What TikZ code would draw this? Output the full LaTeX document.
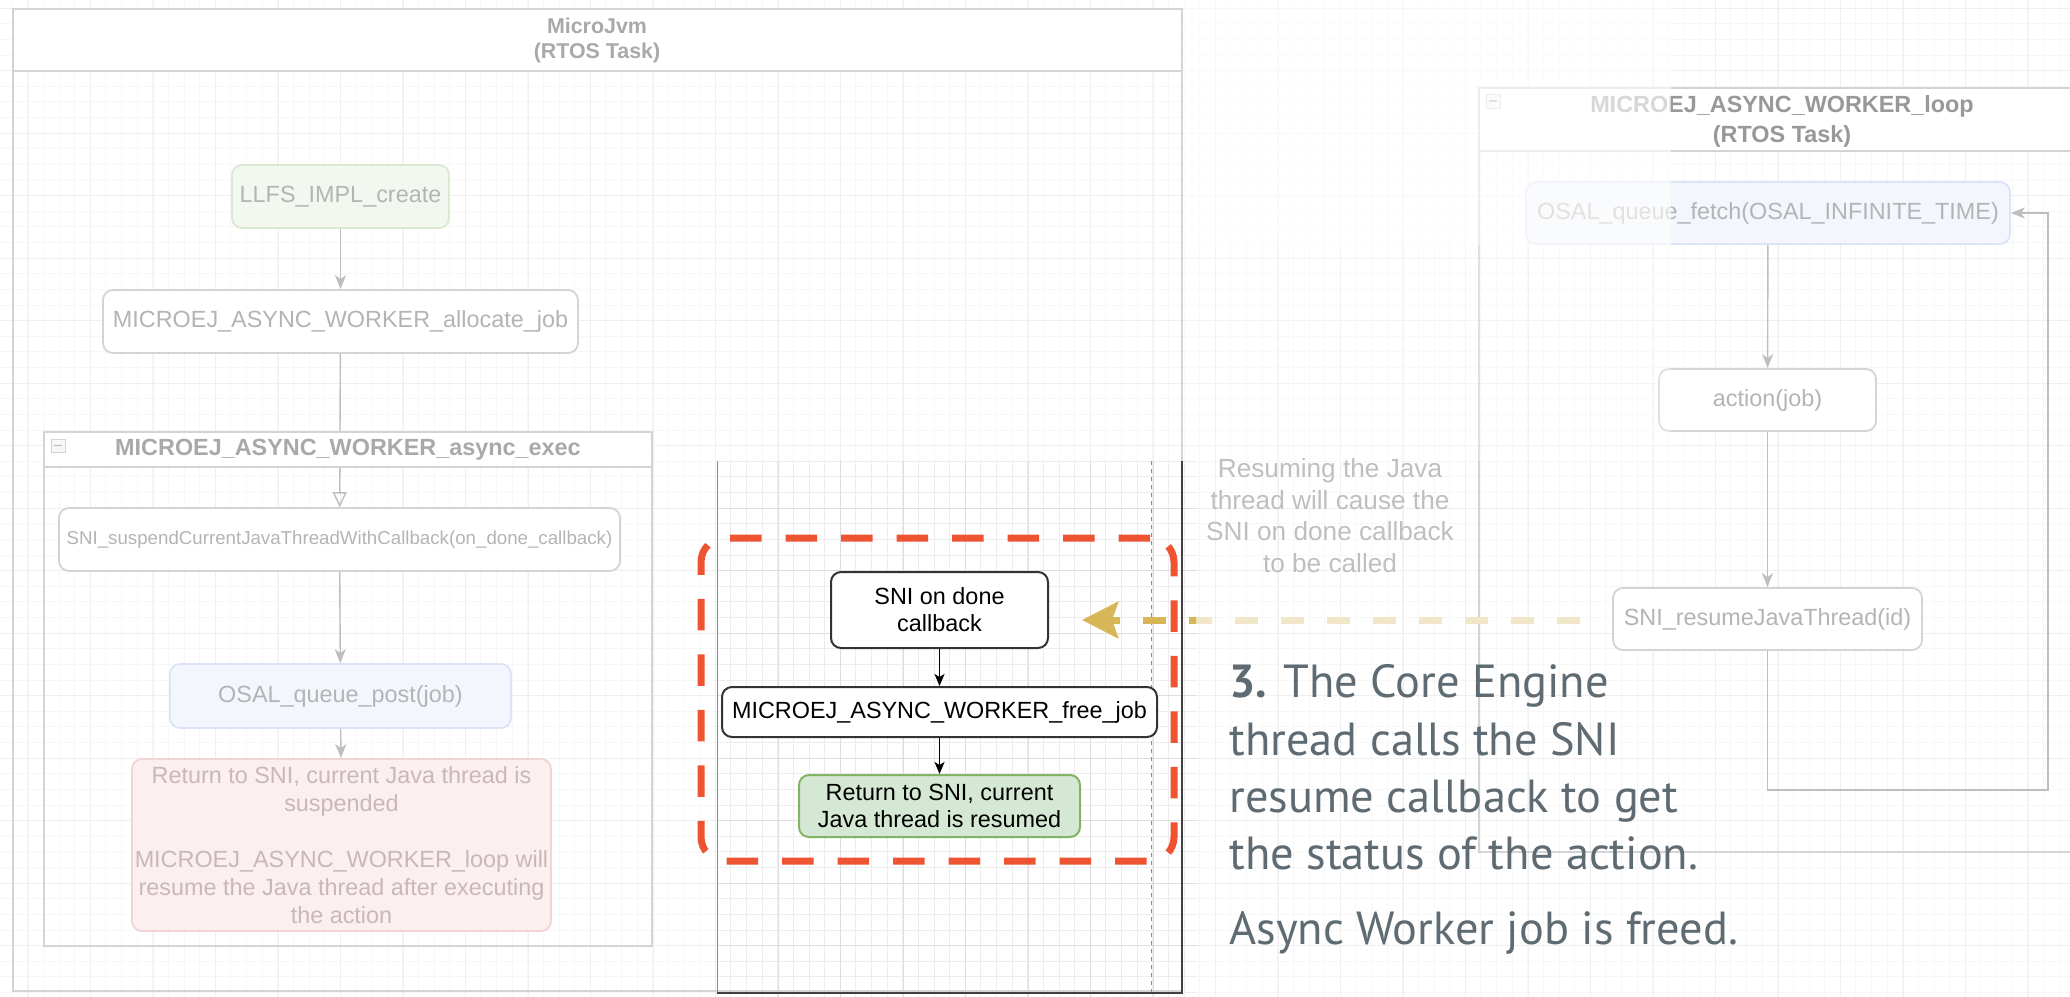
\documentclass[tikz,border=0pt]{standalone}
\usepackage{fontspec}
\setmainfont{Liberation Sans}
\newfontfamily\notefont{PT Sans}
\usetikzlibrary{arrows.meta,positioning}

\definecolor{gridfaint}{HTML}{F7F7F7}
\definecolor{gridfaintmajor}{HTML}{EFEFEF}
\definecolor{gridsharp}{HTML}{EDEDED}
\definecolor{gridsharpmajor}{HTML}{DEDEDE}
\definecolor{fadeline}{HTML}{D4D4D4}
\definecolor{fadetext}{HTML}{B4B4B4}
\definecolor{fadetitle}{HTML}{A9A9A9}
\definecolor{fadearrow}{HTML}{BEBEBE}
\definecolor{fadegreen}{HTML}{F2F8EF}
\definecolor{fadegreenline}{HTML}{D9EAD2}
\definecolor{fadeblue}{HTML}{F3F6FD}
\definecolor{fadeblueline}{HTML}{DCE5F6}
\definecolor{fadepink}{HTML}{FCEFEF}
\definecolor{fadepinkline}{HTML}{F2D4D4}
\definecolor{fadepinktext}{HTML}{C8B8B8}
\definecolor{donegreen}{HTML}{D5E8D4}
\definecolor{donegreenline}{HTML}{82B366}
\definecolor{hilite}{HTML}{EE5431}
\definecolor{goldstrong}{HTML}{D6B656}
\definecolor{goldfade}{HTML}{F1E7C8}
\definecolor{notegray}{HTML}{5F6B73}

\begin{document}
\begin{tikzpicture}[x=0.5pt,y=-0.5pt,
    fadebox/.style={draw=fadeline, line width=0.9pt, rounded corners=5pt, fill=white,
        text=fadetext, align=center, inner sep=0pt, font=\fontsize{11.7}{14}\selectfont},
    focusbox/.style={draw=black!80, line width=1pt, rounded corners=5pt, fill=white,
        text=black, align=center, inner sep=0pt, font=\fontsize{11.7}{13.5}\selectfont},
    fadeflow/.style={draw=fadearrow, line width=0.7pt, -{Stealth[length=7pt,width=5.5pt,inset=2pt]}},
    fadeopen/.style={draw=fadearrow, line width=0.7pt, -{Triangle[open,length=7.5pt,width=7pt]}},
    focusflow/.style={draw=black, line width=0.75pt, -{Stealth[length=6pt,width=5pt,inset=1.5pt]}},
    resumeflow/.style={line width=3.5pt, dash pattern=on 11.5pt off 11.5pt,
        -{Stealth[length=18pt,width=18pt,inset=3pt]}},
    pooltitle/.style={text=fadetitle, align=center, font=\bfseries\fontsize{10.7}{12.5}\selectfont},
    lanetitle/.style={text=fadetitle, align=center, font=\bfseries\fontsize{11.7}{15}\selectfont},
    noteline/.style={anchor=base west, text=notegray, inner sep=0pt, font=\notefont\fontsize{23.2}{27}\selectfont}]

    \clip (0,0) rectangle (2070,996);
    \fill[white] (0,0) rectangle (2070,996);

    % background grid
    \begin{scope}[shift={(12.2,8.2)}]
        \draw[gridfaint, line width=0.5pt, step=7.8125pt] (-20,-20) grid (2090,1010);
    \end{scope}
    \begin{scope}[shift={(28.2,8.2)}]
        \draw[gridfaintmajor, line width=0.5pt, step=31.25pt] (-40,-20) grid (2090,1010);
    \end{scope}
    \begin{scope}
        \clip (717,461) rectangle (1196,996);
        \fill[white] (717,461) rectangle (1196,996);
        \begin{scope}[shift={(12.2,8.2)}]
            \draw[gridsharp, line width=0.5pt, step=7.8125pt] (-20,-20) grid (2090,1010);
        \end{scope}
        \begin{scope}[shift={(28.2,8.2)}]
            \draw[gridsharpmajor, line width=0.5pt, step=31.25pt] (-40,-20) grid (2090,1010);
        \end{scope}
    \end{scope}

    % MicroJvm task
    \draw[fadeline, line width=1pt] (13,9) rectangle (1182,991);
    \filldraw[fill=white, draw=fadeline, line width=1pt] (13,9) rectangle (1182,71);
    \node[pooltitle] (jvmtitle) at (597,40.5) {MicroJvm\\(RTOS Task)};

    \node[fadebox, fill=fadegreen, draw=fadegreenline, minimum width=108.5pt, minimum height=31.5pt]
        (create) at (340.5,196.5) {LLFS\_IMPL\_create};
    \node[fadebox, minimum width=237.5pt, minimum height=31.5pt]
        (allocate) at (340.5,321.5) {MICROEJ\_ASYNC\_WORKER\_allocate\_job};
    \node[fadebox, minimum width=280.5pt, minimum height=31.5pt, font=\fontsize{9.35}{11}\selectfont]
        (suspend) at (339.5,539.5) {SNI\_suspendCurrentJavaThreadWithCallback(on\_done\_callback)};
    \node[fadebox, fill=fadeblue, draw=fadeblueline, minimum width=170.5pt, minimum height=32pt]
        (post) at (340.5,696) {OSAL\_queue\_post(job)};
    \node[fadebox, fill=fadepink, draw=fadepinkline, text=fadepinktext, minimum width=209.5pt, minimum height=86pt]
        (suspended) at (341.5,845) {Return to SNI, current Java thread is\\suspended\\[14pt]MICROEJ\_ASYNC\_WORKER\_loop will\\resume the Java thread after executing\\the action};

    \draw[fadeflow] (create) -- (allocate);
    \draw[fadeopen] (allocate) -- (suspend);
    \draw[fadeflow] (suspend) -- (post);
    \draw[fadeflow] (post) -- (suspended);

    % async_exec container
    \draw[fadeline, line width=1pt] (44,432) rectangle (652,946);
    \filldraw[fill=white, draw=fadeline, line width=1pt] (44,432) rectangle (652,467);
    \draw[fadeline, fill=gridfaint, line width=0.5pt] (51,439) rectangle (65,452);
    \draw[fadetext, line width=0.6pt] (54,445.5) -- (62,445.5);
    \node[lanetitle] (exectitle) at (348,449.5) {MICROEJ\_ASYNC\_WORKER\_async\_exec};

    % worker task
    \draw[fadeline, line width=1pt] (1479,88) rectangle (2090,852);
    \filldraw[fill=white, draw=fadeline, line width=1pt] (1479,88) rectangle (2090,151);
    \draw[fadeline, fill=gridfaint, line width=0.5pt] (1486,94) rectangle (1500,108);
    \draw[fadetext, line width=0.6pt] (1489,101) -- (1497,101);
    \node[lanetitle, text=fadetitle!90!black] (looptitle) at (1782,121) {MICROEJ\_ASYNC\_WORKER\_loop\\(RTOS Task)};

    \node[fadebox, fill=fadeblue, draw=fadeblueline, minimum width=242pt, minimum height=31pt]
        (fetch) at (1768,213) {OSAL\_queue\_fetch(OSAL\_INFINITE\_TIME)};
    \node[fadebox, minimum width=108.5pt, minimum height=31pt]
        (action) at (1767.5,400) {action(job)};
    \node[fadebox, minimum width=154.5pt, minimum height=31pt]
        (resume) at (1767.5,619) {SNI\_resumeJavaThread(id)};
    \coordinate (loopcorner) at (2048,790);

    \draw[fadeflow] (fetch) -- (action);
    \draw[fadeflow] (action) -- (resume);
    \draw[fadeflow] (resume.south) |- (loopcorner) |- (fetch.east);

    % lighter band of the screenshot
    \fill[white, opacity=0.3] (1184,0) rectangle (1671,461);
    \fill[white, opacity=0.45] (1184,0) rectangle (1671,245);

    \node[text=fadetext!85, align=center, font=\fontsize{13.1}{15.8}\selectfont]
        (resumenote) at (1330,515.5) {Resuming the Java\\thread will cause the\\SNI on done callback\\to be called};

    % sharp part
    \draw[black!45, line width=0.5pt] (717,461) -- (717,993);
    \draw[black!45, line width=0.5pt, dash pattern=on 2pt off 2pt] (1151,461) -- (1151,993);
    \draw[black!75, line width=1pt] (1182,461) -- (1182,993) -- (717,993);

    \node[focusbox, minimum width=108.5pt, minimum height=38pt]
        (callback) at (939.5,610) {SNI on done\\callback};
    \node[focusbox, minimum width=217.5pt, minimum height=25pt]
        (freejob) at (939.5,712) {MICROEJ\_ASYNC\_WORKER\_free\_job};
    \node[focusbox, fill=donegreen, draw=donegreenline, minimum width=140.5pt, minimum height=31pt]
        (resumed) at (939.5,806) {Return to SNI, current\\Java thread is resumed};

    \draw[focusflow] (callback) -- (freejob);
    \draw[focusflow] (freejob) -- (resumed);

    \node[draw=hilite, line width=3.5pt, dash pattern=on 15.75pt off 12pt, rounded corners=12pt,
        minimum width=236.5pt, minimum height=161.5pt] (focus) at (937.5,699.5) {};

    \coordinate (goldtail) at (1580,620);
    \coordinate (goldtip) at (1082,620);
    \draw[resumeflow, goldfade] (goldtail) -- (goldtip);
    \begin{scope}
        \clip (717,461) rectangle (1196,996);
        \draw[resumeflow, goldstrong] (goldtail) -- (goldtip);
    \end{scope}

    % step text
    \node[noteline] (note1) at (1229,697) {\textbf{3.} The Core Engine};
    \node[noteline] (note2) at (1229,755) {thread calls the SNI};
    \node[noteline] (note3) at (1229,812) {resume callback to get};
    \node[noteline] (note4) at (1229,869) {the status of the action.};
    \node[noteline] (note5) at (1229,944) {Async Worker job is freed.};
\end{tikzpicture}
\end{document}
